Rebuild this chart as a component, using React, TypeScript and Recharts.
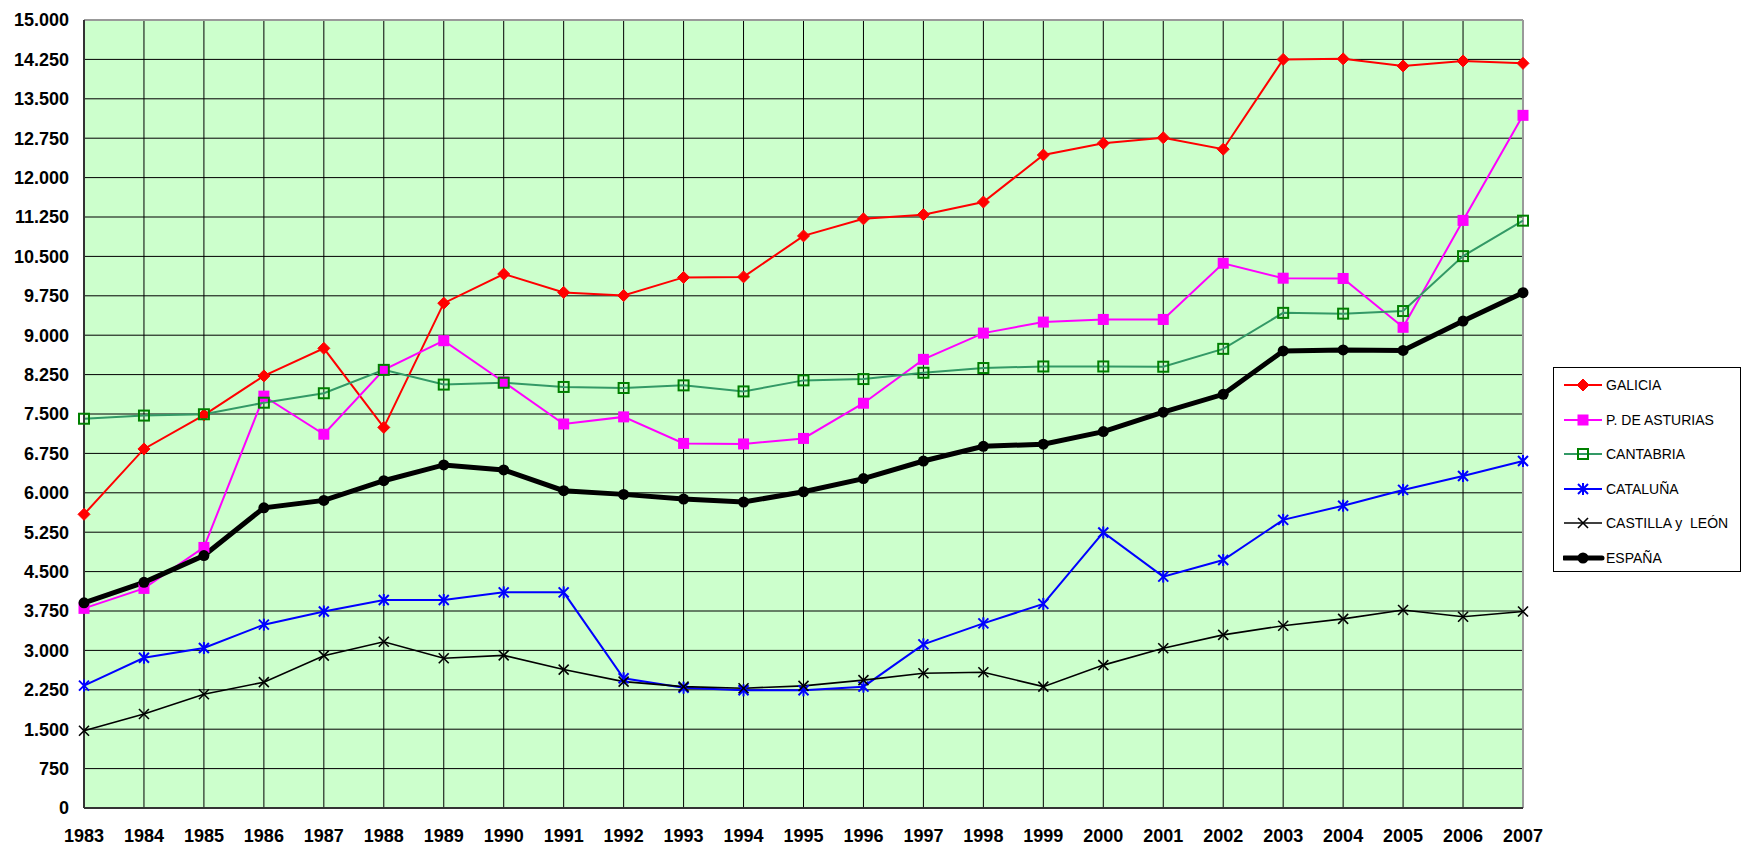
import React from "react";
import {
  LineChart,
  Line,
  XAxis,
  YAxis,
  CartesianGrid,
  ReferenceLine,
} from "recharts";

const years = [
  "1983", "1984", "1985", "1986", "1987", "1988", "1989", "1990", "1991", "1992",
  "1993", "1994", "1995", "1996", "1997", "1998", "1999", "2000", "2001", "2002",
  "2003", "2004", "2005", "2006", "2007",
];

const galicia = [
  5590, 6835, 7480, 8225, 8750, 7245, 9610, 10165, 9815, 9755,
  10100, 10110, 10890, 11215, 11295, 11535, 12430, 12655, 12760, 12540,
  14250, 14260, 14125, 14220, 14175,
];
const asturias = [
  3800, 4180, 4960, 7840, 7115, 8340, 8895, 8110, 7310, 7445,
  6940, 6930, 7035, 7705, 8540, 9040, 9250, 9300, 9300, 10370,
  10085, 10080, 9150, 11185, 13185,
];
const cantabria = [
  7410, 7470, 7495, 7715, 7895, 8340, 8060, 8095, 8015, 7995,
  8045, 7930, 8140, 8165, 8285, 8375, 8405, 8405, 8400, 8740,
  9425, 9410, 9460, 10505, 11180,
];
const cataluna = [
  2330, 2860, 3045, 3490, 3740, 3960, 3960, 4105, 4105, 2470,
  2290, 2240, 2240, 2310, 3115, 3515, 3885, 5245, 4405, 4720,
  5485, 5755, 6055, 6320, 6605,
];
const castilla = [
  1470, 1790, 2165, 2395, 2900, 3165, 2850, 2905, 2635, 2405,
  2310, 2280, 2325, 2435, 2565, 2585, 2310, 2720, 3040, 3295,
  3470, 3600, 3770, 3640, 3740,
];
const espana = [
  3905, 4295, 4805, 5715, 5855, 6230, 6530, 6435, 6040, 5970,
  5880, 5825, 6020, 6270, 6605, 6885, 6925, 7165, 7535, 7875,
  8700, 8720, 8710, 9270, 9810,
];

const yTicks = [
  0, 750, 1500, 2250, 3000, 3750, 4500, 5250, 6000, 6750, 7500,
  8250, 9000, 9750, 10500, 11250, 12000, 12750, 13500, 14250, 15000,
];

const seriesNames = [
  "GALICIA",
  "P. DE ASTURIAS",
  "CANTABRIA",
  "CATALUÑA",
  "CASTILLA y  LEÓN",
  "ESPAÑA",
];
const seriesKeys = ["galicia", "asturias", "cantabria", "cataluna", "castilla", "espana"];
const seriesValues = [galicia, asturias, cantabria, cataluna, castilla, espana];
const seriesColors = ["#FF0000", "#FF00FF", "#339966", "#0000FF", "#000000", "#000000"];
const seriesWidths = [2, 2, 2, 2, 1.6, 5];
const seriesMarkers = ["diamond", "square", "hollowSquare", "asterisk", "cross", "circle"];

const data = years.map((y, i) => {
  const row: any = { year: y };
  seriesKeys.forEach((k, s) => {
    row[k] = seriesValues[s][i];
  });
  return row;
});

const fmt = (v: number) => {
  const s = String(Math.round(v));
  return s.replace(/\B(?=(\d{3})+(?!\d))/g, ".");
};

function Marker({ type, cx, cy }: { type: string; cx: number; cy: number }) {
  switch (type) {
    case "diamond":
      return (
        <polygon
          points={`${cx},${cy - 6} ${cx + 6},${cy} ${cx},${cy + 6} ${cx - 6},${cy}`}
          fill="#FF0000"
          stroke="#FF0000"
          strokeWidth={1}
        />
      );
    case "square":
      return <rect x={cx - 5.5} y={cy - 5.5} width={11} height={11} fill="#FF00FF" />;
    case "hollowSquare":
      return (
        <rect
          x={cx - 5}
          y={cy - 5}
          width={10}
          height={10}
          fill="none"
          stroke="#008000"
          strokeWidth={2}
        />
      );
    case "asterisk":
      return (
        <g stroke="#0000FF" strokeWidth={2}>
          <line x1={cx} y1={cy - 6} x2={cx} y2={cy + 6} />
          <line x1={cx - 5} y1={cy - 5} x2={cx + 5} y2={cy + 5} />
          <line x1={cx - 5} y1={cy + 5} x2={cx + 5} y2={cy - 5} />
        </g>
      );
    case "cross":
      return (
        <g stroke="#000000" strokeWidth={1.6}>
          <line x1={cx - 5} y1={cy - 5} x2={cx + 5} y2={cy + 5} />
          <line x1={cx - 5} y1={cy + 5} x2={cx + 5} y2={cy - 5} />
        </g>
      );
    case "circle":
      return <circle cx={cx} cy={cy} r={5.5} fill="#000000" />;
    default:
      return null;
  }
}

const makeDot = (type: string, key: string) => (props: any) => {
  const { cx, cy, index } = props;
  if (cx == null || cy == null) return <g key={`${key}-${index}`} />;
  return (
    <g key={`${key}-${index}`}>
      <Marker type={type} cx={cx} cy={cy} />
    </g>
  );
};

const FONT = "'Liberation Sans', Arial, sans-serif";

function LegendBox() {
  return (
    <div
      style={{
        position: "absolute",
        left: 1553,
        top: 367,
        width: 188,
        height: 205,
        border: "1px solid #000",
        background: "#fff",
        boxSizing: "border-box",
        fontFamily: FONT,
      }}
    >
      {seriesNames.map((name, i) => (
        <div
          key={name}
          style={{
            position: "absolute",
            left: 9,
            top: 8 + i * 34.6,
            height: 18,
            display: "flex",
            alignItems: "center",
            whiteSpace: "pre",
          }}
        >
          <svg width={42} height={18} style={{ display: "block" }}>
            <line
              x1={1}
              y1={9}
              x2={39}
              y2={9}
              stroke={seriesColors[i]}
              strokeWidth={seriesWidths[i]}
              strokeLinecap={i === 5 ? "round" : "butt"}
            />
            <Marker type={seriesMarkers[i]} cx={20} cy={9} />
          </svg>
          <span style={{ fontSize: 14, color: "#000", marginLeft: 1 }}>{name}</span>
        </div>
      ))}
    </div>
  );
}

export default function App() {
  return (
    <div
      style={{
        position: "absolute",
        left: 0,
        top: 0,
        width: 1742,
        height: 845,
        background: "#fff",
        fontFamily: FONT,
      }}
    >
      <LineChart
        width={1742}
        height={845}
        data={data}
        margin={{ top: 20, right: 219, bottom: 0, left: 0 }}
      >
        <CartesianGrid
          stroke="#000"
          strokeWidth={1}
          fill="#CCFFCC"
          fillOpacity={1}
          vertical={true}
          horizontal={true}
        />
        <XAxis
          dataKey="year"
          interval={0}
          height={37}
          tickLine={false}
          tickSize={6}
          tickMargin={15}
          axisLine={{ stroke: "#333", strokeWidth: 2 }}
          tick={{ fill: "#000", fontSize: 18, fontWeight: "bold", fontFamily: FONT }}
        />
        <YAxis
          width={84}
          domain={[0, 15000]}
          ticks={yTicks}
          interval={0}
          tickFormatter={fmt}
          tickLine={false}
          tickSize={6}
          tickMargin={9}
          axisLine={{ stroke: "#333", strokeWidth: 2 }}
          tick={{ fill: "#000", fontSize: 18, fontWeight: "bold", fontFamily: FONT }}
        />
        <ReferenceLine y={15000} stroke="#999" strokeWidth={2} />
        <ReferenceLine x="2007" stroke="#999" strokeWidth={2} />
        {seriesKeys.map((k, i) => (
          <Line
            key={k}
            type="linear"
            dataKey={k}
            name={seriesNames[i]}
            stroke={seriesColors[i]}
            strokeWidth={seriesWidths[i]}
            dot={makeDot(seriesMarkers[i], k)}
            activeDot={false}
            isAnimationActive={false}
          />
        ))}
      </LineChart>
      <LegendBox />
    </div>
  );
}
